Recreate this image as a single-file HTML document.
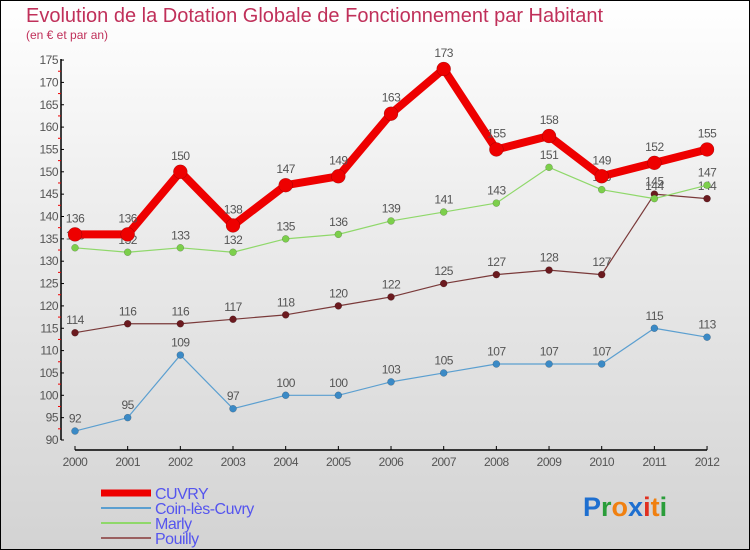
<!DOCTYPE html>
<html><head><meta charset="utf-8"><style>
body{margin:0}
#wrap{position:relative;width:748px;height:548px;border:1px solid #000;background:linear-gradient(#fff,#ececec 40%,#d3d3d3);overflow:hidden;font-family:"Liberation Sans",sans-serif}
svg{position:absolute;left:-1px;top:-1px}
</style></head><body>
<div id="wrap">
<svg id="c" width="750" height="550" font-family="Liberation Sans, sans-serif">
<text x="26" y="22" font-size="20" fill="#c0305a">Evolution de la Dotation Globale de Fonctionnement par Habitant</text>
<text x="26" y="39" font-size="12" fill="#c0305a">(en € et par an)</text>
</svg>
</div>
<script>
const years=[2000,2001,2002,2003,2004,2005,2006,2007,2008,2009,2010,2011,2012];
const cuvry=[136,136,150,138,147,149,163,173,155,158,149,152,155];
const coin=[92,95,109,97,100,100,103,105,107,107,107,115,113];
const marly=[133,132,133,132,135,136,139,141,143,151,146,144,147];
const pouilly=[114,116,116,117,118,120,122,125,127,128,127,145,144];
const yTicks=[90,95,100,105,110,115,120,125,130,135,140,145,150,155,160,165,170,175];
const NS='http://www.w3.org/2000/svg';
const svg=document.getElementById('c');
const X=i=>75+i*52.67, Y=v=>440-(v-90)*4.47;
function mk(t,a,p){const e=document.createElementNS(NS,t);for(const k in a)e.setAttribute(k,a[k]);(p||svg).appendChild(e);return e;}
const ax=mk('g',{});


let l=mk('line',{x1:61,y1:Y(175)-1,x2:61,y2:Y(90),stroke:'#000','stroke-width':1.5},ax);


yTicks.forEach(v=>{
 mk('line',{x1:61,y1:Y(v),x2:64,y2:Y(v),stroke:'#000'},ax);
 if(v<175) mk('line',{x1:58,y1:Y(v+2.5),x2:61,y2:Y(v+2.5),stroke:'#e00'},ax);
 const t=mk('text',{x:58,y:Y(v)+4,'font-size':12,fill:'#555','text-anchor':'end','letter-spacing':'-0.5'},ax);t.textContent=v;
 
 
});
l=mk('line',{x1:X(0),y1:450,x2:X(12),y2:450,stroke:'#000','stroke-width':1.5},ax);


years.forEach((y,i)=>{
 mk('line',{x1:X(i),y1:446,x2:X(i),y2:450,stroke:'#000'},ax);
 const t=mk('text',{x:X(i),y:466,'font-size':12,fill:'#555','text-anchor':'middle','letter-spacing':'-0.5'},ax);t.textContent=y;
 
 
});
function series(d,color,dot,w,r,name){
 const g=mk('g',{});
 
 
 const p=mk('polyline',{points:d.map((v,i)=>X(i)+','+Y(v)).join(' '),fill:'none',stroke:color,'stroke-width':w,'stroke-linejoin':'round'},g);
 
 
 d.forEach((v,i)=>{
  const c=mk('circle',{cx:X(i),cy:Y(v),r:r,fill:dot,stroke:'rgba(0,0,0,0.3)','stroke-width':0.5},g);
  
  
  const t=mk('text',{x:X(i),y:Y(v)-(r+5),'font-size':12,fill:'#555','text-anchor':'middle','letter-spacing':'-0.5'},g);t.textContent=v;
  
  
 });
}
series(pouilly,'#7a3a3a','#6b1a1f',1.2,3.5,'pouilly');
series(coin,'#5b9fd0','#3b8ac6',1.2,3.5,'coin-les-cuvry');
series(marly,'#8fd86a','#7ccf4b',1.2,3.5,'marly');
series(cuvry,'#ee0000','#ee0000',8,7,'cuvry');
const leg=[['CUVRY','#ee0000',7],['Coin-lès-Cuvry','#5b9fd0',2],['Marly','#8fd86a',2],['Pouilly','#9a6060',2]];
leg.forEach((e,i)=>{
 const g=mk('g',{});
 
 
 const y=493+i*15;
 mk('line',{x1:101,y1:y,x2:151,y2:y,stroke:e[1],'stroke-width':e[2]},g);
 const t=mk('text',{x:155,y:y+6,'font-size':16,fill:'#5555ee','letter-spacing':'-0.5'},g);t.textContent=e[0];
});
const lg=mk('text',{x:583,y:516,'font-size':27,'font-weight':'bold','font-family':'"Liberation Sans",sans-serif'});


[['P','#1e6fd0'],['r','#2a9d3a'],['o','#f08010'],['x','#1e6fd0'],['i','#e03020'],['t','#f08010'],['i','#2a9d3a']].forEach(a=>{const s=mk('tspan',{fill:a[1]},lg);s.textContent=a[0];});
</script>
</body></html>
